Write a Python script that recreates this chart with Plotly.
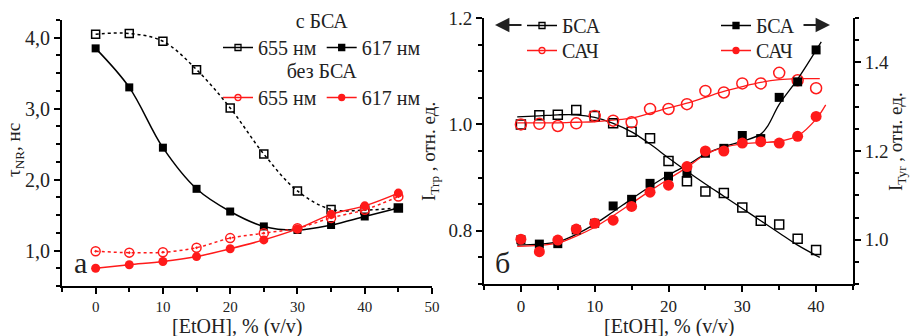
import plotly.graph_objects as go

# ---------------- Panel а : tau_NR vs [EtOH] ----------------
conc_a = [0, 5, 10, 15, 20, 25, 30, 35, 40, 45]
tau_bsa_655 = [4.05, 4.06, 3.95, 3.55, 3.01, 2.36, 1.84, 1.58, 1.57, 1.60]
tau_bsa_617 = [3.85, 3.30, 2.45, 1.87, 1.55, 1.34, 1.29, 1.36, 1.48, 1.60]
tau_free_655 = [0.99, 0.97, 0.975, 1.04, 1.175, 1.245, 1.315, 1.46, 1.575, 1.76]
tau_free_617 = [0.75, 0.80, 0.845, 0.915, 1.025, 1.15, 1.305, 1.51, 1.63, 1.81]
tau_tickvals = [1, 2, 3, 4]
tau_ticktext = ["1,0", "2,0", "3,0", "4,0"]

# ---------------- Panel б : relative intensities ----------------
conc_b = [0, 2.5, 5, 7.5, 10, 12.5, 15, 17.5, 20, 22.5, 25, 27.5, 30, 32.5, 35, 37.5, 40]
trp_bsa = [1.000, 1.017, 1.018, 1.027, 1.016, 1.002, 0.986, 0.974, 0.931, 0.893,
           0.874, 0.871, 0.844, 0.819, 0.812, 0.785, 0.764]
trp_hsa = [1.000, 1.001, 0.997, 1.002, 1.016, 1.007, 1.004, 1.029, 1.029, 1.038,
           1.063, 1.060, 1.077, 1.077, 1.097, 1.083, 1.068]
tyr_bsa = [1.000, 0.990, 0.991, 1.022, 1.037, 1.076, 1.091, 1.127, 1.143, 1.150,
           1.195, 1.206, 1.235, 1.228, 1.321, 1.356, 1.428]
tyr_hsa = [1.001, 0.973, 0.999, 1.024, 1.037, 1.044, 1.075, 1.107, 1.123, 1.165,
           1.200, 1.200, 1.218, 1.221, 1.218, 1.233, 1.278]

# fitted curves
fit_trp_x = [-0.5, 2.5, 5, 7.5, 10, 12.5, 15, 17.5, 20, 22.5, 25, 27.5, 30, 32.5, 35, 37.5, 40.5]
fit_trp_bsa = [1.014, 1.016, 1.018, 1.018, 1.013, 1.002, 0.986, 0.963, 0.937, 0.912,
               0.888, 0.865, 0.842, 0.819, 0.796, 0.773, 0.750]
fit_trp_hsa = [1.003, 1.003, 1.003, 1.004, 1.005, 1.008, 1.012, 1.021, 1.031, 1.040,
               1.051, 1.062, 1.071, 1.079, 1.084, 1.086, 1.086]
fit_tyr_bsa_x = [-0.5, 2.5, 5, 7.5, 10, 12.5, 15, 17.5, 20, 22.5, 25, 27.5, 30, 32.5, 33.5, 35, 37.5, 40.7]
fit_tyr_bsa = [0.988, 0.990, 0.995, 1.012, 1.035, 1.063, 1.092, 1.120, 1.146, 1.168,
               1.193, 1.210, 1.222, 1.238, 1.258, 1.305, 1.362, 1.446]
fit_tyr_hsa_x = [-0.5, 2.5, 5, 7.5, 10, 12.5, 15, 17.5, 20, 22.5, 25, 27.5, 30, 32.5, 35, 37.5, 40, 41.3]
fit_tyr_hsa = [0.985, 0.987, 0.992, 1.008, 1.028, 1.054, 1.082, 1.110, 1.137, 1.163,
               1.192, 1.208, 1.216, 1.219, 1.222, 1.234, 1.272, 1.304]

FONT = "Liberation Serif"
RED = "#ff1a1a"
W, H = 911, 336

fig = go.Figure()

# ---- panel а traces
fig.add_trace(go.Scatter(x=conc_a, y=tau_bsa_655, mode="lines+markers", xaxis="x", yaxis="y",
                         line=dict(color="black", width=1.5, dash="dot", shape="spline"),
                         marker=dict(symbol="square-open", size=8, color="black", line=dict(width=1.5)),
                         showlegend=False))
fig.add_trace(go.Scatter(x=conc_a, y=tau_bsa_617, mode="lines+markers", xaxis="x", yaxis="y",
                         line=dict(color="black", width=1.5, shape="spline"),
                         marker=dict(symbol="square", size=8, color="black"),
                         showlegend=False))
fig.add_trace(go.Scatter(x=conc_a, y=tau_free_655, mode="lines+markers", xaxis="x", yaxis="y",
                         line=dict(color=RED, width=1.5, dash="dot", shape="spline"),
                         marker=dict(symbol="circle-open-dot", size=9, color=RED, line=dict(width=1.5)),
                         showlegend=False))
fig.add_trace(go.Scatter(x=conc_a, y=tau_free_617, mode="lines+markers", xaxis="x", yaxis="y",
                         line=dict(color=RED, width=1.5, shape="spline"),
                         marker=dict(symbol="circle", size=9, color=RED),
                         showlegend=False))

# ---- panel б fitted curves
fig.add_trace(go.Scatter(x=fit_trp_x, y=fit_trp_bsa, mode="lines", xaxis="x2", yaxis="y2",
                         line=dict(color="black", width=1.3, shape="spline"), showlegend=False))
fig.add_trace(go.Scatter(x=fit_trp_x, y=fit_trp_hsa, mode="lines", xaxis="x2", yaxis="y2",
                         line=dict(color=RED, width=1.3, shape="spline"), showlegend=False))
fig.add_trace(go.Scatter(x=fit_tyr_bsa_x, y=fit_tyr_bsa, mode="lines", xaxis="x2", yaxis="y3",
                         line=dict(color="black", width=1.3, shape="spline"), showlegend=False))
fig.add_trace(go.Scatter(x=fit_tyr_hsa_x, y=fit_tyr_hsa, mode="lines", xaxis="x2", yaxis="y3",
                         line=dict(color=RED, width=1.3, shape="spline"), showlegend=False))
# ---- panel б points
fig.add_trace(go.Scatter(x=conc_b, y=trp_bsa, mode="markers", xaxis="x2", yaxis="y2",
                         marker=dict(symbol="square-open", size=9, color="black", line=dict(width=1.5)),
                         showlegend=False))
fig.add_trace(go.Scatter(x=conc_b, y=trp_hsa, mode="markers", xaxis="x2", yaxis="y2",
                         marker=dict(symbol="circle-open", size=11, color=RED, line=dict(width=1.5)),
                         showlegend=False))
fig.add_trace(go.Scatter(x=conc_b, y=tyr_bsa, mode="markers", xaxis="x2", yaxis="y3",
                         marker=dict(symbol="square", size=9, color="black"),
                         showlegend=False))
fig.add_trace(go.Scatter(x=conc_b, y=tyr_hsa, mode="markers", xaxis="x2", yaxis="y3",
                         marker=dict(symbol="circle", size=11, color=RED),
                         showlegend=False))

# ---- legend entries
def leg(name, color, symbol, legend, dash="solid"):
    fig.add_trace(go.Scatter(x=[None], y=[None], mode="lines+markers", name=name, legend=legend,
                             xaxis="x", yaxis="y",
                             line=dict(color=color, width=1.5, dash=dash),
                             marker=dict(symbol=symbol, size=6, color=color,
                                         line=dict(width=1.3, color=color))))

leg("655 нм", "black", "square-open", "legend")
leg("617 нм", "black", "square", "legend")
leg("655 нм", RED, "circle-open", "legend2")
leg("617 нм", RED, "circle", "legend2")
leg("БСА", "black", "square-open", "legend3")
leg("САЧ", RED, "circle-open", "legend5")
leg("БСА", "black", "square", "legend4")
leg("САЧ", RED, "circle", "legend6")

legfont = dict(family=FONT, size=20, color="#222")
common_leg = dict(bgcolor="rgba(0,0,0,0)", borderwidth=0, font=legfont, itemwidth=30,
                  xanchor="left", yanchor="top", tracegroupgap=0)

axis_common = dict(showline=True, linewidth=2, linecolor="black", showgrid=False, zeroline=False,
                   ticks="outside", ticklen=6, tickwidth=1.5, tickcolor="black",
                   automargin=False)

fig.update_layout(
    width=W, height=H,
    margin=dict(l=0, r=0, t=0, b=0),
    paper_bgcolor="white", plot_bgcolor="white",
    font=dict(family=FONT, color="#222"),
    xaxis=dict(domain=[62 / W, 432 / W], anchor="y", range=[-5, 50], dtick=10,
               minor=dict(dtick=5, ticks="outside", ticklen=4, tickcolor="black"),
               tickfont=dict(family=FONT, size=15, color="#222"), **axis_common),
    yaxis=dict(domain=[1 - 286 / H, 1 - 20 / H], anchor="x", range=[0.5, 4.25],
               tickvals=tau_tickvals, ticktext=tau_ticktext,
               minor=dict(dtick=0.25, ticks="outside", ticklen=4, tickcolor="black"),
               tickfont=dict(family=FONT, size=20, color="#222"), **axis_common),
    xaxis2=dict(domain=[484 / W, 853 / W], anchor="y2", range=[-5, 45], dtick=10,
                minor=dict(dtick=5, ticks="outside", ticklen=4, tickcolor="black"),
                tickfont=dict(family=FONT, size=17, color="#222"), **axis_common),
    yaxis2=dict(domain=[1 - 284 / H, 1 - 18 / H], anchor="x2", range=[0.7, 1.2], dtick=0.2,
                tickformat=".1f",
                minor=dict(dtick=0.05, ticks="outside", ticklen=4, tickcolor="black"),
                tickfont=dict(family=FONT, size=19, color="#222"), **axis_common),
    yaxis3=dict(overlaying="y2", anchor="x2", side="right", range=[0.9, 1.5],
                tickvals=[1.0, 1.2, 1.4], tickformat=".1f",
                minor=dict(dtick=0.05, ticks="outside", ticklen=4, tickcolor="black"),
                tickfont=dict(family=FONT, size=19, color="#222"), **axis_common),
    legend=dict(orientation="h", x=218 / W, y=1 - 2 / H,
                title=dict(text="с БСА", side="top center", font=legfont), **common_leg),
    legend2=dict(orientation="h", x=218 / W, y=1 - 52 / H,
                 title=dict(text="без БСА", side="top center", font=legfont), **common_leg),
    legend3=dict(orientation="v", x=522 / W, y=1 - 6 / H, **common_leg),
    legend5=dict(orientation="v", x=522 / W, y=1 - 31 / H, **common_leg),
    legend4=dict(orientation="v", x=716 / W, y=1 - 6 / H, **common_leg),
    legend6=dict(orientation="v", x=716 / W, y=1 - 31 / H, **common_leg),
)

ann = [
    # axis titles
    dict(text="τ<sub>NR</sub>, нс", x=15 / W, y=1 - 150 / H, textangle=-90, font=dict(size=19)),
    dict(text="[EtOH], % (v/v)", x=237 / W, y=1 - 326 / H, font=dict(size=20)),
    dict(text="[EtOH], % (v/v)", x=669 / W, y=1 - 326 / H, font=dict(size=20)),
    dict(text="I<sub>Trp</sub> , отн. ед.", x=430 / W, y=1 - 152 / H, textangle=-90, font=dict(size=19)),
    dict(text="I<sub>Tyr</sub> , отн. ед.", x=897 / W, y=1 - 142 / H, textangle=-90, font=dict(size=19)),
    # panel labels
    dict(text="а", x=80 / W, y=1 - 262 / H, font=dict(size=30)),
    dict(text="б", x=503 / W, y=1 - 262 / H, font=dict(size=30)),
]
for a in ann:
    a.update(xref="paper", yref="paper", showarrow=False, xanchor="center", yanchor="middle")
    a["font"].update(family=FONT, color="#222")
    fig.add_annotation(**a)

# direction arrows for the legends of panel б
fig.add_annotation(xref="paper", yref="paper", x=495 / W, y=1 - 25 / H, ax=28, ay=0, text="",
                   showarrow=True, arrowhead=2, arrowsize=1.6, arrowwidth=1.8, arrowcolor="#222")
fig.add_annotation(xref="paper", yref="paper", x=830 / W, y=1 - 25 / H, ax=-28, ay=0, text="",
                   showarrow=True, arrowhead=2, arrowsize=1.6, arrowwidth=1.8, arrowcolor="#222")

fig.write_html("out.html", config={"displayModeBar": False},
               post_script="document.body.style.margin='0';document.body.style.overflow='hidden';")
